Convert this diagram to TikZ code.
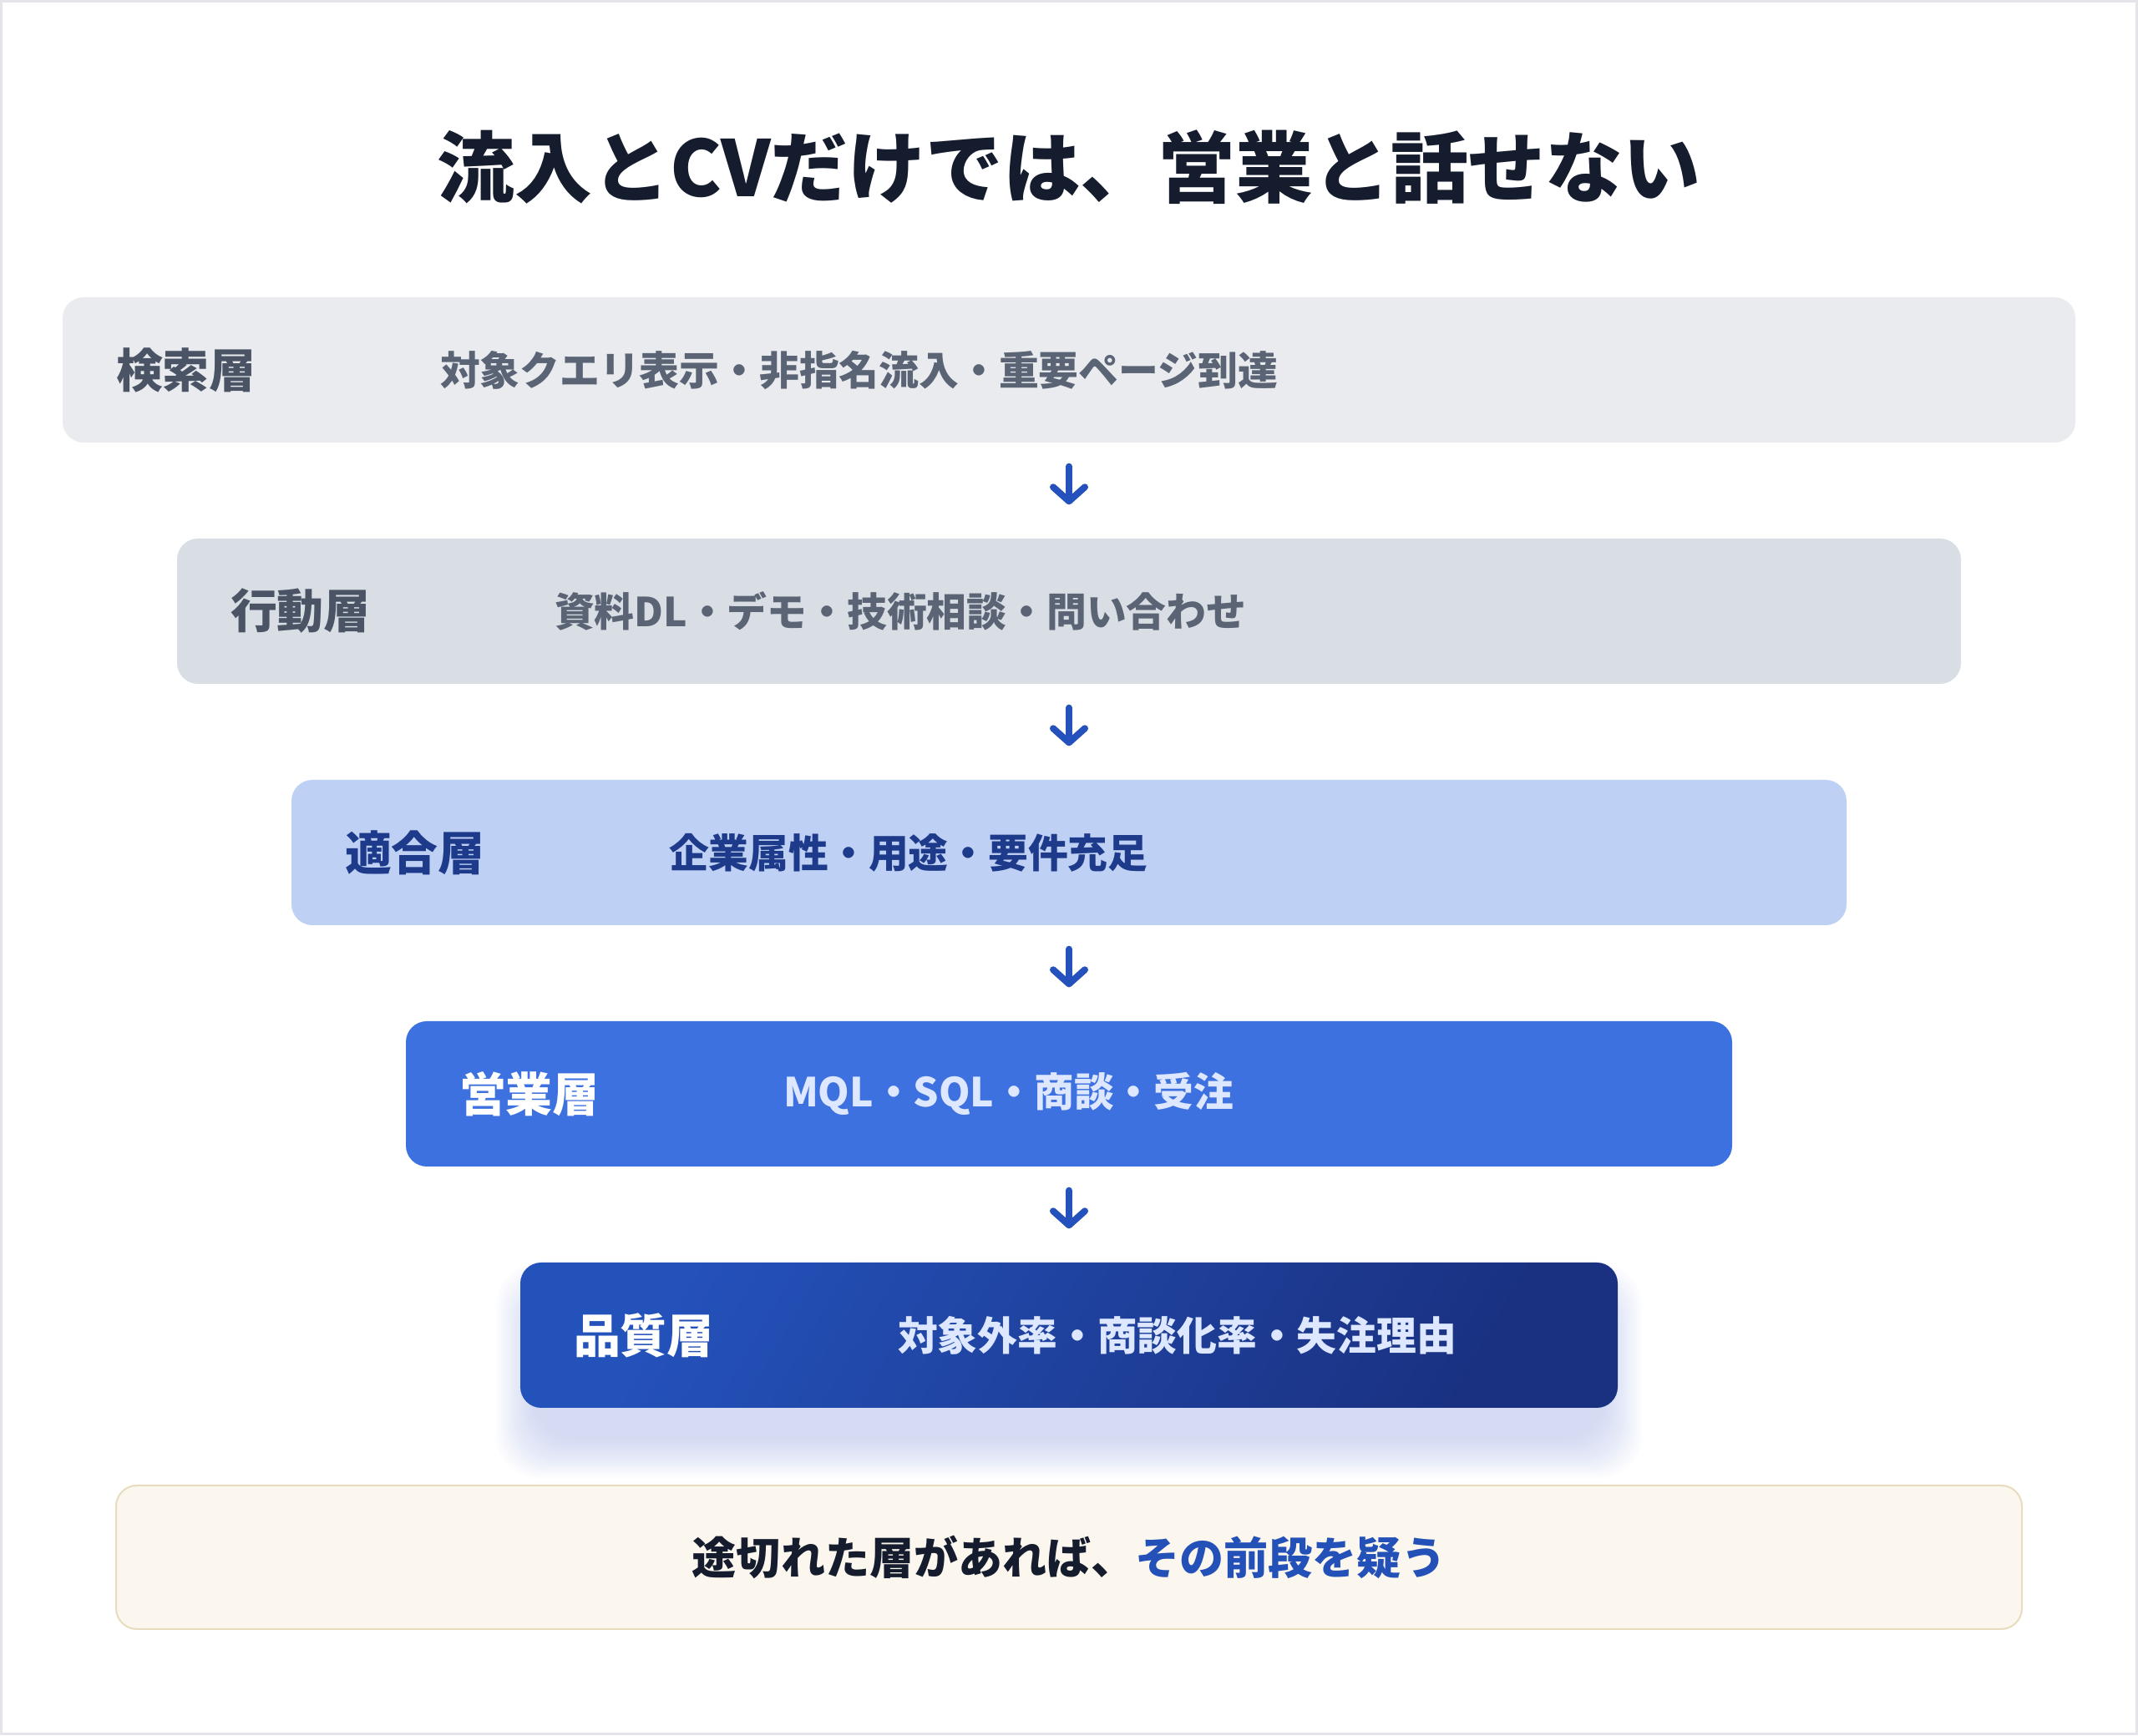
\documentclass[tikz,border=0pt]{standalone}
\usepackage{fontspec}
\setmainfont{Noto Sans CJK JP}
\usepackage{xcolor}
\usetikzlibrary{arrows.meta}
\usetikzlibrary{backgrounds}

\definecolor{framegray}{HTML}{E3E5EA}
\definecolor{titleink}{HTML}{141C2E}
\definecolor{searchfill}{HTML}{E9EBEF}
\definecolor{actionfill}{HTML}{D9DEE5}
\definecolor{fitfill}{HTML}{BED1F5}
\definecolor{salesfill}{HTML}{3E71E0}
\definecolor{qualitylight}{HTML}{2452BB}
\definecolor{qualitydark}{HTML}{1A3181}
\definecolor{shadowblue}{HTML}{3A5BC7}
\definecolor{slatename}{HTML}{4A5465}
\definecolor{slatetext}{HTML}{5A6475}
\definecolor{navytext}{HTML}{1E3A8A}
\definecolor{palebluetext}{HTML}{DDE7FF}
\definecolor{arrowblue}{HTML}{2451BB}
\definecolor{notefill}{HTML}{FBF7EF}
\definecolor{noteline}{HTML}{E8DCBE}
\definecolor{noteblue}{HTML}{2451B8}

\tikzset{
	layer/.style={rounded corners=0.25cm, minimum height=1.74cm, inner sep=0pt},
	layername/.style={anchor=west, inner sep=0pt, font=\fontsize{15.9}{18}\selectfont\bfseries},
	layertext/.style={anchor=west, inner sep=0pt, font=\fontsize{13.6}{16}\selectfont\bfseries},
	flow/.style={draw=arrowblue, line width=0.08cm, line cap=round, -{Straight Barb[length=0.17cm,width=0.38cm,round]}, shorten <=0.28cm, shorten >=0.4cm}
}

\begin{document}
\begin{tikzpicture}
	\useasboundingbox (0,0) rectangle (25.6,20.78);
	\draw[framegray, line width=0.03cm] (0.015,0.015) rectangle (25.585,20.765);
	\node[font=\fontsize{26.4}{30}\selectfont\bfseries, text=titleink] (title) at (12.80,18.78) {流入とCVだけでは、営業と話せない};
	\node[layer, fill=searchfill, minimum width=24.10cm] (search) at (12.80,16.35) {};
	\node[layer, fill=actionfill, minimum width=21.36cm] (action) at (12.80,13.46) {};
	\node[layer, fill=fitfill, minimum width=18.62cm] (fit) at (12.80,10.57) {};
	\node[layer, fill=salesfill, minimum width=15.88cm] (sales) at (12.80,7.68) {};
	\node[layer, left color=qualitylight, right color=qualitydark, shading angle=60, minimum width=13.14cm] (quality) at (12.80,4.79) {};
	\begin{scope}[on background layer]
		\foreach \d in {0.03,0.06,...,0.5}
			\fill[shadowblue, opacity=0.016, rounded corners=0.5cm] ([xshift=0.2cm-\d cm, yshift=-0.35cm-\d cm]quality.south west) rectangle ([xshift=-0.2cm+\d cm, yshift=-0.5cm+\d cm]quality.north east);
	\end{scope}
	\node[layername, text=slatename] (searchname) at ([xshift=0.64cm]search.west) {検索層};
	\node[layertext, text=slatetext] (searchtext) at ([xshift=4.52cm]search.west) {対象クエリ表示・非指名流入・重要ページ到達};
	\node[layername, text=slatename] (actionname) at ([xshift=0.64cm]action.west) {行動層};
	\node[layertext, text=slatetext] (actiontext) at ([xshift=4.52cm]action.west) {資料DL・デモ・技術相談・問い合わせ};
	\node[layername, text=navytext] (fitname) at ([xshift=0.64cm]fit.west) {適合層};
	\node[layertext, text=navytext] (fittext) at ([xshift=4.52cm]fit.west) {企業属性・用途・要件充足};
	\node[layername, text=white] (salesname) at ([xshift=0.64cm]sales.west) {営業層};
	\node[layertext, text=palebluetext] (salestext) at ([xshift=4.52cm]sales.west) {MQL・SQL・商談・受注};
	\node[layername, text=white] (qualityname) at ([xshift=0.64cm]quality.west) {品質層};
	\node[layertext, text=palebluetext] (qualitytext) at ([xshift=4.52cm]quality.west) {対象外率・商談化率・失注理由};
	\draw[flow] (search) -- (action);
	\draw[flow] (action) -- (fit);
	\draw[flow] (fit) -- (sales);
	\draw[flow] (sales) -- (quality);
	\node[rounded corners=0.25cm, fill=notefill, draw=noteline, line width=0.02cm, minimum width=22.82cm, minimum height=1.72cm] (note) at (12.80,2.13) {};
	\node[inner sep=0pt, font=\fontsize{15.1}{18}\selectfont\bfseries, text=titleink] (notetext) at (note) {途切れた層があれば、\textcolor{noteblue}{その前段を疑う}};
\end{tikzpicture}
\end{document}
